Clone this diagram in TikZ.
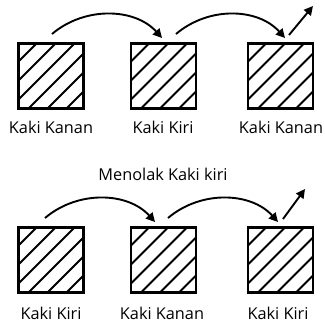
\documentclass[tikz,border=0pt]{standalone}
\usepackage{fontspec}
\setmainfont{Open Sans}
\usetikzlibrary{calc,arrows.meta}
\tikzset{
  hatchbox/.style={draw, line width=2.2pt, minimum width=65pt, minimum height=65pt, inner sep=0pt,
    path picture={
      \foreach \c in {47,28,9,-10,-29,-48}{
        \draw[line width=1.8pt] ($(path picture bounding box.center)+(-50,50-\c)$) -- ($(path picture bounding box.center)+(50,-50-\c)$);
      }
    }},
  lbl/.style={font=\fontsize{16.3}{19}\selectfont, anchor=base, inner sep=0pt},
  arr/.style={line width=1.9pt, -{Triangle[length=9pt,width=9pt]}}
}
\begin{document}
\begin{tikzpicture}[x=1pt,y=-1pt]
\useasboundingbox (0,0) rectangle (325,322);
% top row
\node[hatchbox] (a1) at (51,76) {};
\node[hatchbox] (a2) at (163.5,76) {};
\node[hatchbox] (a3) at (280.5,76) {};
\node[lbl] (la1) at (51,133) {Kaki Kanan};
\node[lbl] (la2) at (163,133) {Kaki Kiri};
\node[lbl] (la3) at (281,133) {Kaki Kanan};
\coordinate (s1) at (52,34);
\coordinate (e1) at (162,38);
\coordinate (s2) at (176,34);
\coordinate (e2) at (285,38);
\coordinate (s3) at (289,35);
\coordinate (e3) at (313,6);
\draw[arr] (s1) .. controls (85,6) and (135,8) .. (e1);
\draw[arr] (s2) .. controls (209,6) and (258,8) .. (e2);
\draw[arr] (s3) -- (e3);
% title
\node[lbl] (title) at (163,180) {Menolak Kaki kiri};
% bottom row
\node[hatchbox] (b1) at (51,260) {};
\node[hatchbox] (b2) at (163.5,260) {};
\node[hatchbox] (b3) at (280.5,260) {};
\node[lbl] (lb1) at (51,319) {Kaki Kiri};
\node[lbl] (lb2) at (162,319) {Kaki Kanan};
\node[lbl] (lb3) at (278,319) {Kaki Kiri};
\coordinate (t1) at (45,218);
\coordinate (f1) at (155,222);
\coordinate (t2) at (168,218);
\coordinate (f2) at (278,222);
\coordinate (t3) at (283,219);
\coordinate (f3) at (305,189);
\draw[arr] (t1) .. controls (78,190) and (128,192) .. (f1);
\draw[arr] (t2) .. controls (201,190) and (251,192) .. (f2);
\draw[arr] (t3) -- (f3);
\end{tikzpicture}
\end{document}
